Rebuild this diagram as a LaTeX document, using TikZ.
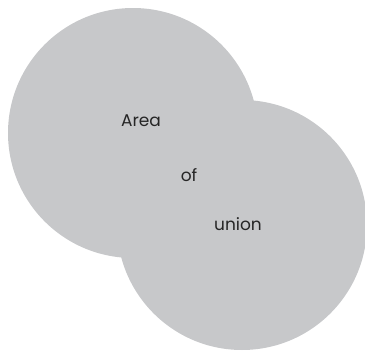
\documentclass[tikz,border=0pt]{standalone}
\usepackage{fontspec}
\setmainfont{Poppins}
\usepackage{tikz}
\definecolor{uniongray}{RGB}{199,200,202}

\begin{document}
\begin{tikzpicture}[
    x=1pt, y=-1pt,
    disc/.style={circle, fill=uniongray, inner sep=0pt, minimum size=250pt},
    word/.style={font=\fontsize{17}{20}\selectfont, text=black!85}
]
    \useasboundingbox (0,0) rectangle (365,351);
    % Circles
    \node[disc] (upper) at (133,133) {};
    \node[disc] (lower) at (242,225) {};

    % Labels
    \node[word] (area) at (141,121) {Area};
    \node[word] (of) at (189,175) {of};
    \node[word] (union) at (238,224) {union};
\end{tikzpicture}
\end{document}
